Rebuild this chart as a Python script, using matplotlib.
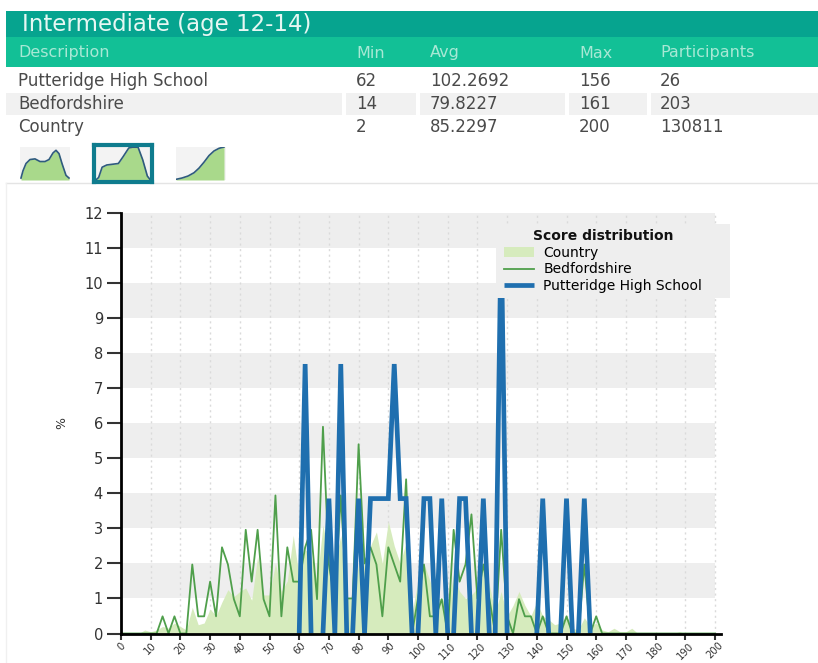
import matplotlib
matplotlib.use("Agg")
import matplotlib.pyplot as plt
from matplotlib.patches import Rectangle

FONT = "DejaVu Sans"
plt.rcParams["font.family"] = [FONT]

title = "Intermediate (age 12-14)"
columns = ["Description", "Min", "Avg", "Max", "Participants"]
rows = [
    ["Putteridge High School", "62", "102.2692", "156", "26"],
    ["Bedfordshire", "14", "79.8227", "161", "203"],
    ["Country", "2", "85.2297", "200", "130811"],
]

bins = list(range(0, 202, 2))
country = [0, 0, 0, 0, .1, .05, .1, .2, .15, .3, .2, .1, .75, .25, .3, .7, .5, .9, 1.25, 1.05,
           1.2, 1.3, .95, 2.2, 1.1, 1.1, 2.0, 1.2, 1.5, 2.8, 1.6, 2.4, 2.2, 1.5, 3.1, 2.2, 2.0, 2.8, 1.0, 1.0,
           2.0, 2.0, 2.5, 2.9, 2.0, 3.2, 2.5, 2.0, 2.6, .6, 1.5, 2.0, 1.5, 1.0, 1.0, .8, 1.7, 1.2, 1.0, 1.1,
           1.3, 2.0, 1.4, .6, 1.2, .5, .8, 1.2, .8, .5, .9, .5, .4, .25, .3, .5, .15, .1, .45, .2,
           .3, .1, .05, .15, .05, .05, .15, 0, 0, 0, 0, 0, 0, 0, .05, 0, 0, 0, 0, 0, 0]
bedfordshire = [0, 0, 0, 0, 0, 0, 0, .49, 0, .49, 0, 0, 1.97, .49, .49, 1.48, .49, 2.46, 1.97, .98,
                .49, 2.96, 1.48, 2.96, .98, .49, 3.94, .49, 2.46, 1.48, 1.48, 2.46, 2.96, .98, 5.9, 1.97, .98, 3.94, 1.0, 1.0,
                5.4, 2.0, 2.46, 1.97, .49, 2.46, 1.97, 1.48, 4.4, 0, 1.0, 1.97, .49, .49, .98, 0, 2.96, 1.48, 1.97, 3.4,
                1.0, 1.97, 1.0, 0, 2.96, .49, 0, .98, .49, .49, 0, .49, 0, 0, 0, .49, 0, 0, 1.97, 0,
                .49, 0, 0, 0, 0, 0, 0, 0, 0, 0, 0, 0, 0, 0, 0, 0, 0, 0, 0, 0, 0]
school_bins = [60, 62, 64, 66, 68, 70, 72, 74, 76, 78, 80, 82, 84, 86, 88, 90, 92, 94, 96, 98, 100,
               102, 104, 106, 108, 110, 112, 114, 116, 118, 120, 122, 124, 126, 128, 130, 132, 134, 136, 138, 140,
               142, 144, 146, 148, 150, 152, 154, 156, 158]
school = [0, 7.69, 0, 0, 0, 3.85, 0, 7.69, 0, 0, 3.85, 0, 3.85, 3.85, 3.85, 3.85, 7.69, 3.85, 3.85, 0, 0,
          3.85, 3.85, 0, 3.85, 0, 0, 3.85, 3.85, 0, 0, 3.85, 0, 0, 11.54, 0, 0, 0, 0, 0, 0,
          3.85, 0, 0, 0, 3.85, 0, 0, 3.85, 0]

icon_peaks_x = [2, 6, 12, 20, 30, 40, 50, 58, 66, 72, 78, 84, 92, 98]
icon_peaks_y = [6, 28, 50, 62, 64, 56, 56, 62, 82, 90, 80, 50, 14, 6]
icon_step_x = [2, 8, 14, 22, 42, 50, 60, 66, 76, 84, 92, 98]
icon_step_y = [4, 12, 40, 46, 50, 68, 92, 94, 94, 60, 16, 4]
icon_cum_x = [0, 12, 24, 36, 46, 56, 66, 76, 86, 96]
icon_cum_y = [2, 6, 12, 22, 36, 54, 74, 88, 96, 100]

W, H = 818, 663
fig = plt.figure(figsize=(W / 100, H / 100), dpi=100, facecolor="white")

# page layer in pixel coordinates
bg = fig.add_axes([0, 0, 1, 1], zorder=0)
bg.set_xlim(0, W)
bg.set_ylim(H, 0)
bg.axis("off")
bg.add_patch(Rectangle((6, 11), 812, 26, fc="#06A48F", ec="none"))
bg.add_patch(Rectangle((6, 37), 812, 30, fc="#12C096", ec="none"))
bg.text(22, 25, title, color="#E6F7F3", fontsize=16.5, va="center")
col_x = [18, 356, 430, 579, 660]
for x, c in zip(col_x, columns):
    bg.text(x, 53, c, color="#A8E8D5", fontsize=11.5, va="center")
for x0, x1 in [(6, 342), (346, 416), (420, 565), (569, 647), (651, 818)]:
    bg.add_patch(Rectangle((x0, 93), x1 - x0, 22, fc="#F1F1F1", ec="none"))
for y, r in zip([81, 104, 127], rows):
    for x, v in zip(col_x, r):
        bg.text(x, y, v, color="#4A4A4A", fontsize=12, va="center")
bg.plot([6, 818], [183, 183], color="#E4E4E4", lw=1)
bg.plot([6, 6], [183, 663], color="#F0F0F0", lw=1)


def icon(px, xs, ys, selected=False):
    x0, y0, w, h = px
    ax = fig.add_axes([x0 / W, 1 - (y0 + h) / H, w / W, h / H], zorder=1)
    ax.set_xlim(0, 100)
    ax.set_ylim(0, 100)
    ax.set_xticks([])
    ax.set_yticks([])
    ax.set_facecolor("#F3F3F3")
    ax.fill_between(xs, ys, color="#A9D98B", lw=0)
    ax.plot(xs, ys, color="#2F5B7E", lw=1.2)
    for s in ax.spines.values():
        s.set_visible(selected)
        s.set_color("#0F7C8E")
        s.set_linewidth(3)


icon((20, 147, 50, 33), icon_peaks_x, icon_peaks_y)
icon((94, 145, 58, 37), icon_step_x, icon_step_y, selected=True)
icon((176, 147, 50, 33), icon_cum_x, icon_cum_y)

# chart
L, R, T, B = 121, 721, 213, 633.5
ax = fig.add_axes([L / W, 1 - B / H, (R - L) / W, (B - T) / H], zorder=2)
ax.patch.set_alpha(0)
ax.set_xlim(0, (R - L) / 2.97)
ax.set_ylim(0, 12)
for lo in range(1, 12, 2):
    ax.fill_between([0, 200], lo, lo + 1, color="#EEEEEE", lw=0, zorder=0)
xt = list(range(0, 210, 10))
for x in xt[1:]:
    ax.axvline(x, color="#DADADA", lw=1, ls=(0, (1.5, 2.5)), zorder=1)
ax.fill_between(bins, country, color="#D6EBBD", lw=0, zorder=2, label="Country")
ax.plot(bins, bedfordshire, color="#4F9F4B", lw=1.3, zorder=3, label="Bedfordshire")

# the school line leaves no stroke along the axis: break it between adjacent zero bins
line_x, line_y = [school_bins[0]], [school[0]]
for i in range(1, len(school)):
    if school[i] == 0 and school[i - 1] == 0:
        line_x.append(school_bins[i])
        line_y.append(float("nan"))
    line_x.append(school_bins[i])
    line_y.append(school[i])
ax.plot(line_x, line_y, color="#1F6FAF", lw=3.4, zorder=4, label="Putteridge High School",
        solid_joinstyle="miter", solid_capstyle="butt")
ax.spines["top"].set_visible(False)
ax.spines["right"].set_visible(False)
for s in ("left", "bottom"):
    ax.spines[s].set_linewidth(2)
    ax.spines[s].set_zorder(6)
ax.set_xticks(xt)
ax.set_xticklabels([str(v) for v in xt], rotation=45, ha="center", va="top")
ax.set_yticks(range(0, 13))
ax.tick_params(axis="x", length=4, width=1.5, labelsize=7.2, pad=1, colors="#333333")
ax.tick_params(axis="y", length=10, width=1.5, labelsize=10.5, pad=3, colors="#333333")
bg.text(62, 423, "%", rotation=90, fontsize=9, ha="center", va="center", color="#333333")

# legend layer
lg = fig.add_axes([0, 0, 1, 1], zorder=3)
lg.set_xlim(0, W)
lg.set_ylim(H, 0)
lg.axis("off")
lg.add_patch(Rectangle((496, 224), 234, 74, fc="#EEEEEE", ec="none"))
handles, labels = ax.get_legend_handles_labels()
leg = lg.legend(handles, labels, title="Score distribution", loc="upper left",
                bbox_to_anchor=(499 / W, 1 - 224 / H), frameon=False,
                prop={"size": 10},
                handlelength=2.2, labelspacing=0.2, handletextpad=0.65, borderpad=0.35,
                borderaxespad=0)
leg.get_title().set_fontweight("bold")
leg.get_title().set_fontsize(10)
leg.get_title().set_color("#111111")

fig.savefig("out.png", dpi=100)
